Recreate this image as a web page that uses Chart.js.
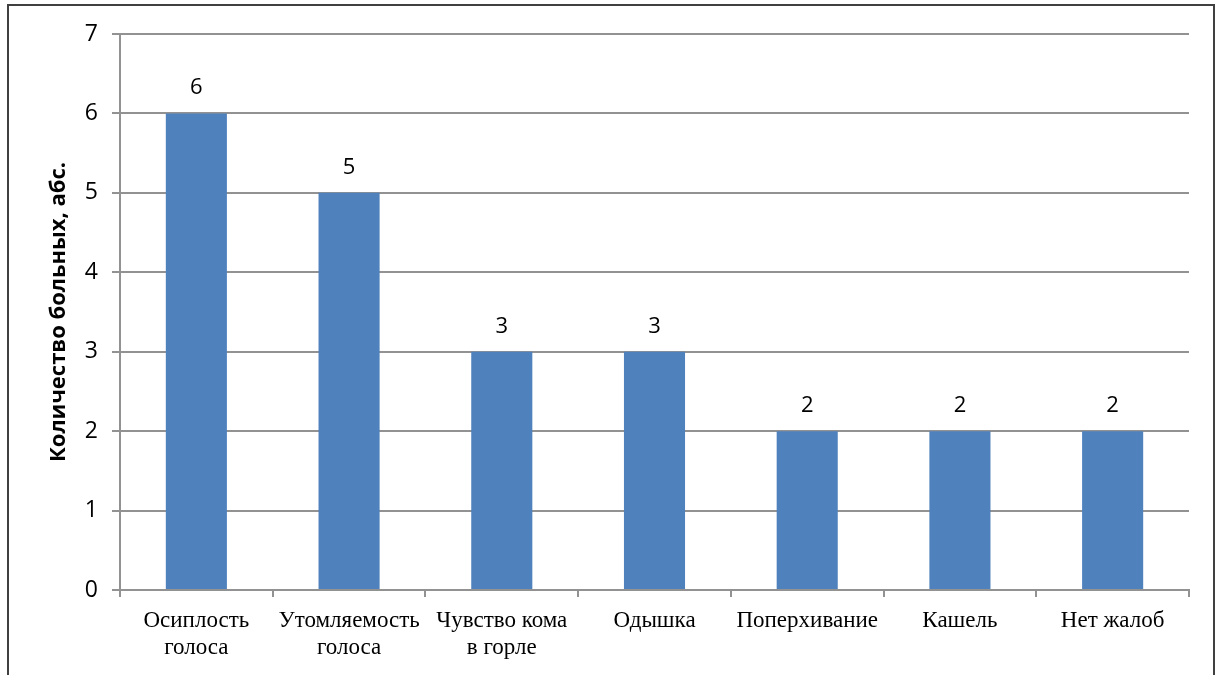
<!DOCTYPE html>
<html lang="ru">
<head>
<meta charset="utf-8">
<title>Жалобы больных</title>
<script src="https://cdn.jsdelivr.net/npm/chart.js@4"></script>
<style>
  html, body { margin: 0; padding: 0; background: #ffffff; overflow: hidden; }
  #wrap { position: relative; width: 1222px; height: 675px; }
  #frame {
    position: absolute; left: 7px; top: 4px; width: 1208px; height: 720px;
    border: 2px solid #404040; box-sizing: border-box;
  }
  #chart { position: absolute; left: 0; top: 0; }
</style>
</head>
<body>
<div id="wrap">
  <div id="frame"></div>
  <canvas id="chart" width="1222" height="675"></canvas>
</div>
<script>
// Жалобы пациентов: категории и количество больных
const categories = [
  ["Осиплость", "голоса"],
  ["Утомляемость", "голоса"],
  ["Чувство кома", "в горле"],
  ["Одышка"],
  ["Поперхивание"],
  ["Кашель"],
  ["Нет жалоб"]
];
const patientCounts = [6, 5, 3, 3, 2, 2, 2];
const yTicks = [0, 1, 2, 3, 4, 5, 6, 7];
const yAxisTitle = "Количество больных, абс.";

const barColor = "#4F81BD";
const gridColor = "#929292";

// Подписи значений над столбцами
const valueLabels = {
  id: "valueLabels",
  afterDatasetsDraw(chart) {
    const ctx = chart.ctx;
    const meta = chart.getDatasetMeta(0);
    ctx.save();
    ctx.font = "22px 'Open Sans', sans-serif";
    ctx.fillStyle = "#000000";
    ctx.textAlign = "center";
    ctx.textBaseline = "alphabetic";
    meta.data.forEach((bar, i) => {
      ctx.fillText(String(chart.data.datasets[0].data[i]), bar.x, bar.y - 19);
    });
    ctx.restore();
  }
};

new Chart(document.getElementById("chart"), {
  type: "bar",
  data: {
    labels: categories,
    datasets: [{
      data: patientCounts,
      backgroundColor: barColor,
      borderWidth: 0,
      barPercentage: 0.4,
      categoryPercentage: 1.0
    }]
  },
  options: {
    responsive: false,
    animation: false,
    layout: { padding: { left: 46, right: 33, top: 34, bottom: 0 } },
    plugins: {
      legend: { display: false },
      tooltip: { enabled: false }
    },
    scales: {
      x: {
        offset: true,
        grid: {
          offset: true,
          drawOnChartArea: false,
          drawTicks: true,
          tickLength: 7,
          color: gridColor,
          lineWidth: 2
        },
        border: { display: true, color: gridColor, width: 2 },
        ticks: {
          autoSkip: false,
          maxRotation: 0,
          minRotation: 0,
          padding: 10,
          color: "#000000",
          font: { family: "'Liberation Serif', 'Times New Roman', serif", size: 23, lineHeight: 1.2 }
        },
        afterFit(scale) { scale.height = 85; }
      },
      y: {
        min: 0,
        max: 7,
        afterBuildTicks(scale) { scale.ticks = yTicks.map(v => ({ value: v })); },
        grid: {
          color: gridColor,
          lineWidth: 2,
          drawTicks: true,
          tickLength: 8
        },
        border: { display: true, color: gridColor, width: 2 },
        ticks: {
          padding: 14,
          color: "#000000",
          font: { family: "'Open Sans', sans-serif", size: 23 }
        },
        title: {
          display: true,
          text: yAxisTitle,
          color: "#000000",
          padding: { top: 0, bottom: 0 },
          font: { family: "'Open Sans', sans-serif", size: 22, weight: "bold" }
        },
        afterFit(scale) { scale.width = 74; }
      }
    }
  },
  plugins: [valueLabels]
});
</script>
</body>
</html>
